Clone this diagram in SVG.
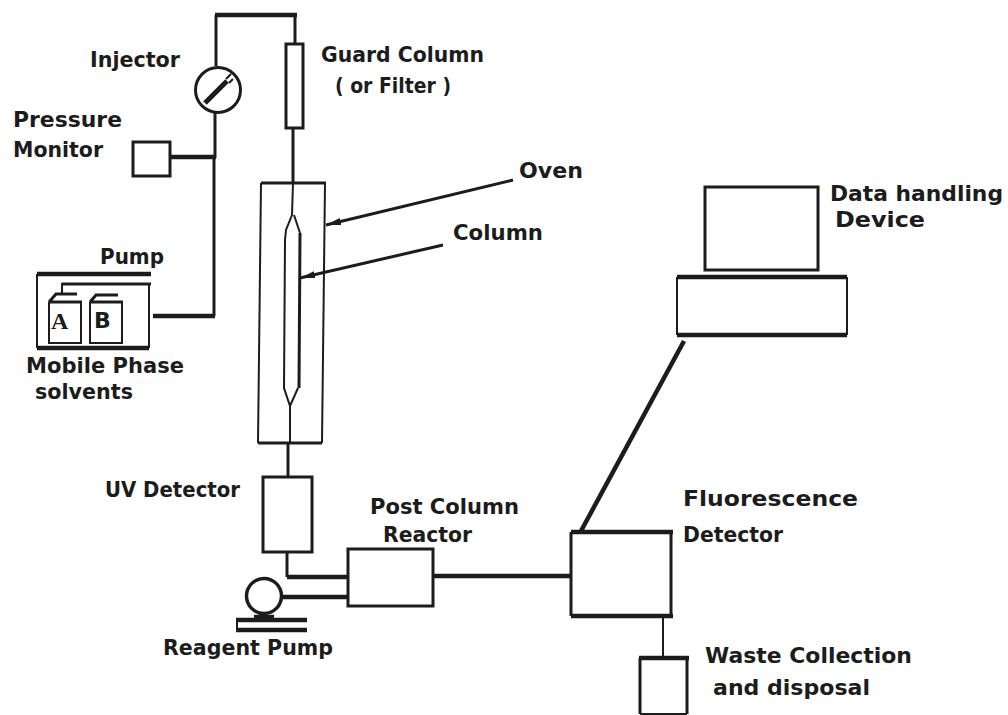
<svg xmlns="http://www.w3.org/2000/svg" width="1008" height="715" viewBox="0 0 1008 715">
<defs><marker id="ah" markerUnits="userSpaceOnUse" markerWidth="16" markerHeight="10" refX="15" refY="5" orient="auto"><path d="M0 1.500L15 5L0 8.500Z" fill="#1c1c1c"/></marker></defs>
<style>
text{font-family:"DejaVu Sans","Liberation Sans",sans-serif;font-weight:bold;font-size:22px;fill:#1c1c1c}
.b{fill:none;stroke:#1c1c1c;stroke-width:2}
.t{fill:none;stroke:#1c1c1c;stroke-width:4.500}
.m{fill:none;stroke:#1c1c1c;stroke-width:3}
</style>
<rect width="1008" height="715" fill="#fff"/>
<g id="connectors">
<path class="m" d="M216 66V15"/><path class="t" d="M215 15H297"/><path class="m" d="M295 15V43"/>
<path class="m" d="M293 128V183"/>
<path class="m" d="M215 113V158M214 158V316"/>
<path class="t" d="M170 157H216"/>
<path class="t" d="M153 316H215"/>
<path class="m" d="M288 443V477"/>
<path class="m" d="M287 552V577"/><path class="t" d="M287 577H348"/>
<path class="t" d="M282 597H348"/>
<path class="t" d="M433 576H571"/>
<path class="t" d="M684 341L581 531"/>
<path class="b" d="M663 616V658"/>
<path class="m" d="M513 180L326 225" marker-end="url(#ah)"/><path class="m" d="M443 245L300 278" marker-end="url(#ah)"/>
<path class="b" d="M62 294V284H64"/><path class="m" d="M62 284H151"/>
</g>
<g id="injector"><circle class="m" cx="218" cy="90" r="22.500"/><path d="M205 103L227 81" stroke="#1c1c1c" stroke-width="5" fill="none"/><path class="b" d="M226 79L231 74M229 83L233 79"/><text x="90" y="67" textLength="90" lengthAdjust="spacingAndGlyphs">Injector</text></g>
<g id="guard-column"><rect class="m" x="286" y="44" width="17" height="84"/><text x="321" y="62" textLength="163" lengthAdjust="spacingAndGlyphs">Guard Column</text><text x="335" y="93" textLength="116" lengthAdjust="spacingAndGlyphs">( or Filter )</text></g>
<g id="pressure-monitor"><rect class="m" x="133" y="142" width="37" height="34"/><text x="13" y="127" textLength="109" lengthAdjust="spacingAndGlyphs">Pressure</text><text x="13" y="157" textLength="90" lengthAdjust="spacingAndGlyphs">Monitor</text></g>
<g id="pump"><path class="b" d="M37 274V348M149 284V348"/><path class="t" d="M37 274H151M37 348H149"/><text x="100" y="264" textLength="64" lengthAdjust="spacingAndGlyphs">Pump</text></g>
<g id="solvent-a"><path class="b" d="M49 302V343H81V302"/><path class="m" d="M49 302L56 294H77M49 302H82"/><text x="51" y="329" style="font-family:'Liberation Serif',serif;font-size:24px">A</text></g>
<g id="solvent-b"><path class="b" d="M90 302V343H122V302"/><path class="m" d="M90 302L96 295H118M90 302H123"/><text x="94" y="328">B</text><text x="26" y="373" textLength="158" lengthAdjust="spacingAndGlyphs">Mobile Phase</text><text x="35" y="399" textLength="98" lengthAdjust="spacingAndGlyphs">solvents</text></g>
<g id="oven"><path class="b" d="M261 183L258 443M325 183L322 443"/><path class="m" d="M261 183H326M258 443H322"/><text x="519" y="178" textLength="64" lengthAdjust="spacingAndGlyphs">Oven</text></g>
<g id="column"><path class="b" d="M293 183L292 215L286 230L285 240L284 388L290 406L298 388M300 233L294 215M290 406V443"/><path class="m" d="M300 233L299 388"/><text x="453" y="240" textLength="90" lengthAdjust="spacingAndGlyphs">Column</text></g>
<g id="data-device"><rect class="m" x="705" y="187" width="113" height="83"/><path class="b" d="M677 277V335M847 277V335"/><path class="t" d="M677 277H847M677 335H847"/><text x="830" y="201" textLength="173" lengthAdjust="spacingAndGlyphs">Data handling</text><text x="835" y="227" textLength="90" lengthAdjust="spacingAndGlyphs">Device</text></g>
<g id="uv-detector"><rect class="m" x="263" y="477" width="49" height="75"/><text x="105" y="497" textLength="135" lengthAdjust="spacingAndGlyphs">UV Detector</text></g>
<g id="reactor"><rect class="m" x="348" y="549" width="85" height="57"/><text x="370" y="514" textLength="149" lengthAdjust="spacingAndGlyphs">Post Column</text><text x="383" y="542" textLength="89" lengthAdjust="spacingAndGlyphs">Reactor</text></g>
<g id="reagent-pump"><circle cx="264" cy="596" r="17.500" fill="none" stroke="#1c1c1c" stroke-width="3.500"/><path class="t" d="M236 620H307M236 630H307"/><path class="t" d="M254 617H274"/><path class="b" d="M237 620V630"/><text x="163" y="655" textLength="170" lengthAdjust="spacingAndGlyphs">Reagent Pump</text></g>
<g id="fluorescence"><path class="m" d="M571 532V616M671 532V616"/><path class="t" d="M571 532H673M571 616H673"/><text x="683" y="506" textLength="175" lengthAdjust="spacingAndGlyphs">Fluorescence</text><text x="683" y="542" textLength="100" lengthAdjust="spacingAndGlyphs">Detector</text></g>
<g id="waste"><path class="m" d="M640 658V714M687 658V714"/><path class="t" d="M639 658H689"/><path class="b" d="M640 714H687"/><text x="705" y="663" textLength="207" lengthAdjust="spacingAndGlyphs">Waste Collection</text><text x="713" y="695" textLength="157" lengthAdjust="spacingAndGlyphs">and disposal</text></g>
</svg>
